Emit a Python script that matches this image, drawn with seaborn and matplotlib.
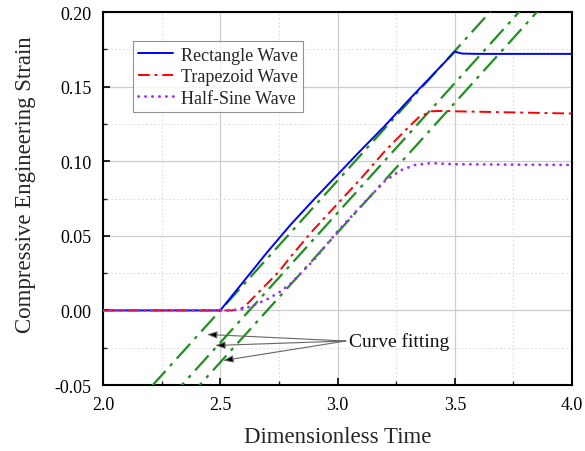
import numpy as np
import pandas as pd
import matplotlib
matplotlib.use("Agg")
import matplotlib.pyplot as plt
import seaborn as sns
from matplotlib.ticker import MultipleLocator

# ---- data ----
rect_x = [2.0, 2.5, 2.6, 2.7, 2.8, 2.9, 3.0, 3.1, 3.2, 3.3, 3.4, 3.5, 3.53, 3.6, 4.0]
rect_y = [0.0, 0.0, 0.0195, 0.039, 0.0575, 0.0745, 0.091, 0.1075, 0.1235, 0.1405, 0.157, 0.1735, 0.1722, 0.172, 0.172]

trap_x = [2.0, 2.55, 2.6, 2.65, 2.7, 2.75, 2.8, 2.875, 2.9, 3.0, 3.1, 3.2, 3.3, 3.35, 3.4, 3.45, 3.5, 4.0]
trap_y = [0.0, 0.0, 0.002, 0.010, 0.018, 0.026, 0.036, 0.050, 0.0545, 0.0715, 0.0885, 0.1065, 0.1225, 0.130, 0.1335, 0.1338, 0.1335, 0.132]

sine_x = [2.0, 2.55, 2.6, 2.65, 2.7, 2.75, 2.8, 2.9, 3.0, 3.1, 3.2, 3.27, 3.33, 3.4, 3.45, 3.5, 4.0]
sine_y = [0.0, 0.0, 0.001, 0.004, 0.0075, 0.012, 0.018, 0.034, 0.053, 0.070, 0.0865, 0.094, 0.0975, 0.0988, 0.0983, 0.098, 0.0975]

# fitted lines: zero-crossing times and common slope
fit_x0 = [2.50, 2.624, 2.70]
fit_slope = [0.174, 0.174, 0.174]
fit_span = [2.0, 4.0]

x_ticks = [2.0, 2.5, 3.0, 3.5, 4.0]
x_tick_labels = ["2.0", "2.5", "3.0", "3.5", "4.0"]
y_ticks = [-0.05, 0.00, 0.05, 0.10, 0.15, 0.20]
y_tick_labels = ["-0.05", "0.00", "0.05", "0.10", "0.15", "0.20"]

# annotation targets on the fit lines
ann_text = "Curve fitting"
ann_text_xy = (3.05, -0.0205)
ann_tail_xy = (3.035, -0.0205)
ann_heads_x = [2.443, 2.478, 2.512]
ann_heads_y = [-0.0161, -0.0235, -0.0336]

# ---- plotting ----
sns.set_theme(style="ticks")
plt.rcParams["font.family"] = ["Liberation Serif", "DejaVu Serif"]

fig = plt.figure(figsize=(5.85, 4.52), dpi=100)
ax = fig.add_axes([0.176, 0.146, 0.802, 0.825])

df_rect = pd.DataFrame({"t": rect_x, "s": rect_y})
df_trap = pd.DataFrame({"t": trap_x, "s": trap_y})
df_sine = pd.DataFrame({"t": sine_x, "s": sine_y})

sns.lineplot(data=df_rect, x="t", y="s", ax=ax, color="#0000ff", lw=1.4,
             label="Rectangle Wave", zorder=5)
sns.lineplot(data=df_trap, x="t", y="s", ax=ax, color="#ff0000", lw=1.4,
             label="Trapezoid Wave", zorder=5)
ax.lines[-1].set_linestyle((0, (6, 2.5, 1.5, 2.5)))
sns.lineplot(data=df_sine, x="t", y="s", ax=ax, color="#9b30ff", lw=2.0,
             label="Half-Sine Wave", zorder=5)
ax.lines[-1].set_linestyle((0, (0.1, 2.4)))
ax.lines[-1].set_dash_capstyle("round")

for x0, k in zip(fit_x0, fit_slope):
    xs = np.array(fit_span)
    df_fit = pd.DataFrame({"t": xs, "s": k * (xs - x0)})
    sns.lineplot(data=df_fit, x="t", y="s", ax=ax, color="#1f8f1f", lw=1.6,
                 legend=False, zorder=4)
    ax.lines[-1].set_linestyle((0, (9, 3, 1.5, 3)))

for hx, hy in zip(ann_heads_x, ann_heads_y):
    ax.annotate("", xy=(hx, hy), xytext=ann_tail_xy,
                arrowprops=dict(arrowstyle="-|>,head_length=0.5,head_width=0.18",
                                lw=0.8, shrinkA=0, shrinkB=0,
                                ec="#666666", fc="black"), zorder=6)
ax.text(ann_text_xy[0], ann_text_xy[1], ann_text, fontsize=14, va="center",
        ha="left", color="#111111", zorder=7)

ax.set_xlim(2.0, 4.0)
ax.set_ylim(-0.05, 0.20)
ax.set_xticks(x_ticks)
ax.set_xticklabels(x_tick_labels)
ax.set_yticks(y_ticks)
ax.set_yticklabels(y_tick_labels)
ax.xaxis.set_minor_locator(MultipleLocator(0.25))
ax.yaxis.set_minor_locator(MultipleLocator(0.025))
ax.tick_params(axis="both", which="major", direction="in", length=5, width=1.2,
               labelsize=13, colors="black", pad=8)
ax.tick_params(axis="both", which="minor", direction="in", length=3, width=1.0)
ax.tick_params(top=False, right=False, which="both")

ax.grid(True, which="major", color="#cccccc", lw=0.9, ls="-")
ax.grid(True, which="minor", color="#dddddd", lw=0.8, ls=(0, (1.5, 2)))
ax.set_axisbelow(True)

for sp in ax.spines.values():
    sp.set_visible(True)
    sp.set_color("black")
    sp.set_linewidth(1.5)

ax.set_xlabel("Dimensionless Time", fontsize=16.5, labelpad=9)
ax.set_ylabel("Compressive Engineering Strain", fontsize=16.5, labelpad=9)
ax.yaxis.set_label_coords(-0.143, 0.54)

leg = ax.legend(loc="upper left", bbox_to_anchor=(0.064, 0.922), fontsize=13,
                frameon=True, fancybox=False, edgecolor="#777777",
                handlelength=1.9, borderpad=0.3, labelspacing=0.25,
                handletextpad=0.45, borderaxespad=0)
leg.get_frame().set_linewidth(0.8)
leg.set_zorder(10)

fig.savefig("out.png", dpi=100)
